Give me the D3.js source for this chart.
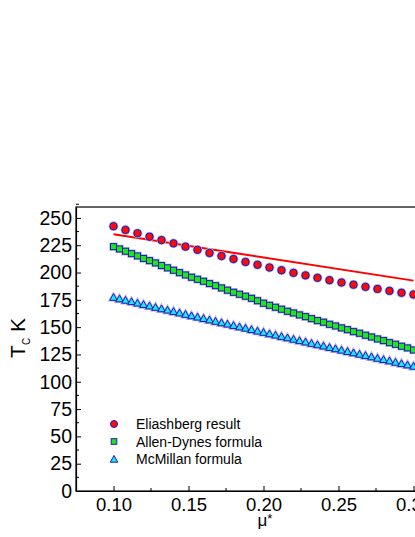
<!DOCTYPE html>
<html>
<head>
<meta charset="utf-8">
<script src="https://cdn.jsdelivr.net/npm/d3@7"></script>
<style>
	body { margin: 0; background: #fff; }
	svg { display: block; font-family: Arial, "Liberation Sans", sans-serif; }
</style>
</head>
<body>
<div id="chart"></div>
<script>
// Eliashberg result (circles)
var muEli = [0.100, 0.108, 0.116, 0.124, 0.132, 0.140, 0.148, 0.156, 0.164, 0.172, 0.180, 0.188, 0.196,
	0.204, 0.212, 0.220, 0.228, 0.236, 0.244, 0.252, 0.260, 0.268, 0.276, 0.284, 0.292, 0.300];
var tcEli = [242.4, 239.0, 235.9, 232.8, 229.7, 226.7, 223.7, 220.8, 217.9, 215.1, 212.4, 209.7, 207.1,
	204.6, 202.1, 199.7, 197.4, 195.2, 193.0, 190.9, 188.9, 186.9, 185.0, 183.2, 181.5, 179.9];

// red line
var muLine = [0.10, 0.30];
var tcLine = [235.0, 192.6];

// Allen-Dynes + McMillan share the same mu grid
var muFormula = [0.100, 0.104, 0.108, 0.112, 0.116, 0.120, 0.124, 0.128, 0.132, 0.136,
	0.140, 0.144, 0.148, 0.152, 0.156, 0.160, 0.164, 0.168, 0.172, 0.176,
	0.180, 0.184, 0.188, 0.192, 0.196, 0.200, 0.204, 0.208, 0.212, 0.216,
	0.220, 0.224, 0.228, 0.232, 0.236, 0.240, 0.244, 0.248, 0.252, 0.256,
	0.260, 0.264, 0.268, 0.272, 0.276, 0.280, 0.284, 0.288, 0.292, 0.296, 0.300];
var tcAllen = [223.7, 221.6, 219.5, 217.3, 215.2, 212.9, 210.9, 208.8, 206.4, 204.3,
	202.1, 199.9, 197.8, 195.7, 193.8, 192.0, 189.9, 188.0, 185.9, 183.8,
	181.9, 180.1, 178.3, 176.4, 174.2, 171.9, 170.0, 168.2, 166.4, 164.5,
	163.0, 161.2, 159.6, 157.8, 156.0, 154.5, 152.6, 151.1, 149.3, 147.7,
	145.9, 144.4, 142.6, 141.0, 139.2, 137.7, 135.8, 134.3, 132.5, 131.0, 129.1];
var tcMcMillan = [177.0, 175.7, 174.4, 173.1, 171.8, 170.5, 169.2, 167.9, 166.6, 165.4,
	164.1, 162.8, 161.5, 160.2, 159.0, 157.7, 156.4, 155.1, 153.8, 152.6,
	151.3, 150.0, 148.8, 147.5, 146.2, 145.0, 143.7, 142.5, 141.2, 140.0,
	138.7, 137.4, 136.2, 134.9, 133.7, 132.5, 131.2, 130.0, 128.7, 127.5,
	126.3, 125.0, 123.8, 122.6, 121.3, 120.1, 118.9, 117.6, 116.4, 115.2, 114.0];

var xTicks = [0.10, 0.15, 0.20, 0.25, 0.30];
var xMinorTicks = [0.125, 0.175, 0.225, 0.275, 0.325];
var yTicks = [0, 25, 50, 75, 100, 125, 150, 175, 200, 225, 250];
var legendNames = ["Eliashberg result", "Allen-Dynes formula", "McMillan formula"];

var W = 415, H = 537;
var edge = "#1c1cae";
var halo = "#b4b4ec";

var svg = d3.select("#chart").append("svg")
	.attr("width", W)
	.attr("height", H);

var x = d3.scaleLinear().domain([0.075, 0.325]).range([76, 451]);
var y = d3.scaleLinear().domain([0, 260]).range([491, 207]);

// frame
svg.append("rect")
	.attr("x", x(0.075)).attr("y", y(260))
	.attr("width", x(0.325) - x(0.075))
	.attr("height", y(0) - y(260))
	.attr("fill", "none").attr("stroke", "#000").attr("stroke-width", 1.2);

// axes, ticks pointing inward
var xAxis = svg.append("g")
	.attr("transform", "translate(0," + y(0) + ")")
	.call(d3.axisBottom(x).tickValues(xTicks).tickSizeInner(-5).tickSizeOuter(0)
		.tickFormat(d3.format(".2f")).tickPadding(7));
var yAxis = svg.append("g")
	.attr("transform", "translate(" + x(0.075) + ",0)")
	.call(d3.axisLeft(y).tickValues(yTicks).tickSizeInner(-5).tickSizeOuter(0).tickPadding(4));

[xAxis, yAxis].forEach(function(g) {
	g.select(".domain").attr("stroke", "#000").attr("stroke-width", 1.2);
	g.selectAll(".tick line").attr("stroke", "#000");
	g.selectAll(".tick text").attr("fill", "#000")
		.attr("font-family", "Arial, 'Liberation Sans', sans-serif");
});
xAxis.selectAll(".tick text").attr("font-size", 18.5).attr("dy", "0.71em");
yAxis.selectAll(".tick text").attr("font-size", 19.5);

// minor ticks
svg.append("g").selectAll("line")
	.data(xMinorTicks)
	.enter().append("line")
	.attr("x1", function(d) { return x(d); }).attr("x2", function(d) { return x(d); })
	.attr("y1", y(0)).attr("y2", y(0) - 3)
	.attr("stroke", "#000");
svg.append("g").selectAll("line")
	.data(yTicks.map(function(d) { return d + 12.5; }))
	.enter().append("line")
	.attr("x1", x(0.075)).attr("x2", x(0.075) + 3)
	.attr("y1", function(d) { return y(d); }).attr("y2", function(d) { return y(d); })
	.attr("stroke", "#000");

// red line
var lineData = muLine.map(function(m, i) { return [m, tcLine[i]]; });
svg.append("path")
	.datum(lineData)
	.attr("d", d3.line().x(function(d) { return x(d[0]); }).y(function(d) { return y(d[1]); }))
	.attr("fill", "none").attr("stroke", "#ff0000").attr("stroke-width", 2);

function tri(cx, cy, s) {
	var h = s * 0.9;
	return "M" + cx + "," + (cy - h * 0.6) +
		"L" + (cx + s / 2) + "," + (cy + h * 0.4) +
		"L" + (cx - s / 2) + "," + (cy + h * 0.4) + "Z";
}

// draws a marker twice: soft halo underneath, crisp edge on top
function markers(sel, fill) {
	sel.clone().attr("fill", "none").attr("stroke", halo).attr("stroke-width", 2.4).lower();
	sel.attr("fill", fill).attr("stroke", edge).attr("stroke-width", 1);
}

// McMillan triangles
var triG = svg.append("g");
triG.selectAll("path")
	.data(muFormula.map(function(m, i) { return [m, tcMcMillan[i]]; }))
	.enter().append("path")
	.attr("d", function(d) { return tri(x(d[0]), y(d[1]), 7.5); })
	.call(markers, "#1fe6ff");

// Allen-Dynes squares
var sqG = svg.append("g");
sqG.selectAll("rect")
	.data(muFormula.map(function(m, i) { return [m, tcAllen[i]]; }))
	.enter().append("rect")
	.attr("x", function(d) { return x(d[0]) - 3; })
	.attr("y", function(d) { return y(d[1]) - 3; })
	.attr("width", 6).attr("height", 6)
	.call(markers, "#1ee61e");

// Eliashberg circles
var cG = svg.append("g");
cG.selectAll("circle")
	.data(muEli.map(function(m, i) { return [m, tcEli[i]]; }))
	.enter().append("circle")
	.attr("cx", function(d) { return x(d[0]); })
	.attr("cy", function(d) { return y(d[1]); })
	.attr("r", 3.7)
	.call(markers, "#ff0a0a");

// legend
var leg = svg.append("g").attr("transform", "translate(114,424)");
leg.append("circle").attr("cx", 0).attr("cy", 0).attr("r", 3.5)
	.attr("fill", "#ff0a0a").attr("stroke", edge);
leg.append("rect").attr("x", -2.8).attr("y", 17.5 - 2.8).attr("width", 5.6).attr("height", 5.6)
	.attr("fill", "#1ee61e").attr("stroke", edge);
leg.append("path").attr("d", tri(0, 35.5, 7.5))
	.attr("fill", "#1fe6ff").attr("stroke", edge);
leg.selectAll("text")
	.data(legendNames)
	.enter().append("text")
	.attr("x", 22)
	.attr("y", function(d, i) { return i * 17.5 + 5; })
	.attr("font-size", 14)
	.text(function(d) { return d; });

// y title, pieces placed one by one (rotated, reading upward)
svg.append("text")
	.attr("transform", "translate(25,358) rotate(-90)")
	.attr("font-size", 21).text("T");
svg.append("text")
	.attr("transform", "translate(30,345) rotate(-90)")
	.attr("font-size", 10).text("C");
svg.append("text")
	.attr("transform", "translate(25,332) rotate(-90)")
	.attr("font-size", 21).text("K");

var xt = svg.append("text")
	.attr("x", 265).attr("y", 526)
	.attr("text-anchor", "middle")
	.attr("font-size", 17);
xt.append("tspan").text("μ");
xt.append("tspan").attr("font-size", 13).attr("dy", -3).text("*");
</script>
</body>
</html>
